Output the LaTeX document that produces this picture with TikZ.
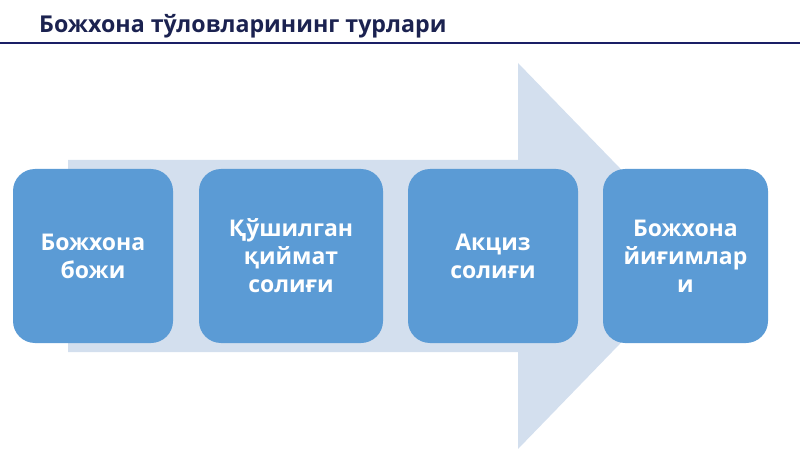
\documentclass[tikz,border=0pt]{standalone}
\usepackage{fontspec}
\setmainfont{Open Sans}
\usepackage{tikz}
\definecolor{titleNavy}{HTML}{1B2250}
\definecolor{ruleNavy}{HTML}{1A1F66}
\definecolor{arrowBlue}{HTML}{D3DFEE}
\definecolor{stepBlue}{HTML}{5B9BD5}
\newcommand{\boxRadius}[0]{22pt}
\newcommand{\boxFont}[0]{\fontsize{23}{28}\selectfont\bfseries}

\begin{document}
\begin{tikzpicture}[x=1pt, y=-1pt]
  \tikzset{stepbox/.style={fill=stepBlue, rounded corners=\boxRadius, text=white,
      align=center, inner sep=0pt, font=\boxFont, minimum height=174pt}}
  \useasboundingbox (0,0) rectangle (800,449);
  \node[anchor=base west, text=titleNavy, font=\fontsize{23.2}{26}\selectfont\bfseries, inner sep=0pt] (title) at (39,33) {Божхона тўловларининг турлари};
  \draw[ruleNavy, line width=2.4pt] (0,43) -- (800,43);
  % background arrow
  \fill[arrowBlue] (68,160) -- (518,160) -- (518,63) -- (705,256) -- (518,449) -- (518,352) -- (68,352) -- cycle;
  % four steps
  \node[stepbox, minimum width=160pt] (boj) at (93,256) {Божхона\\божи};
  \node[stepbox, minimum width=184pt] (qqs) at (291,256) {Қўшилган\\қиймат\\солиғи};
  \node[stepbox, minimum width=170pt] (aksiz) at (493,256) {Акциз\\солиғи};
  \node[stepbox, minimum width=165pt] (yigim) at (685.5,256) {Божхона\\йиғимлар\\и};
\end{tikzpicture}
\end{document}
